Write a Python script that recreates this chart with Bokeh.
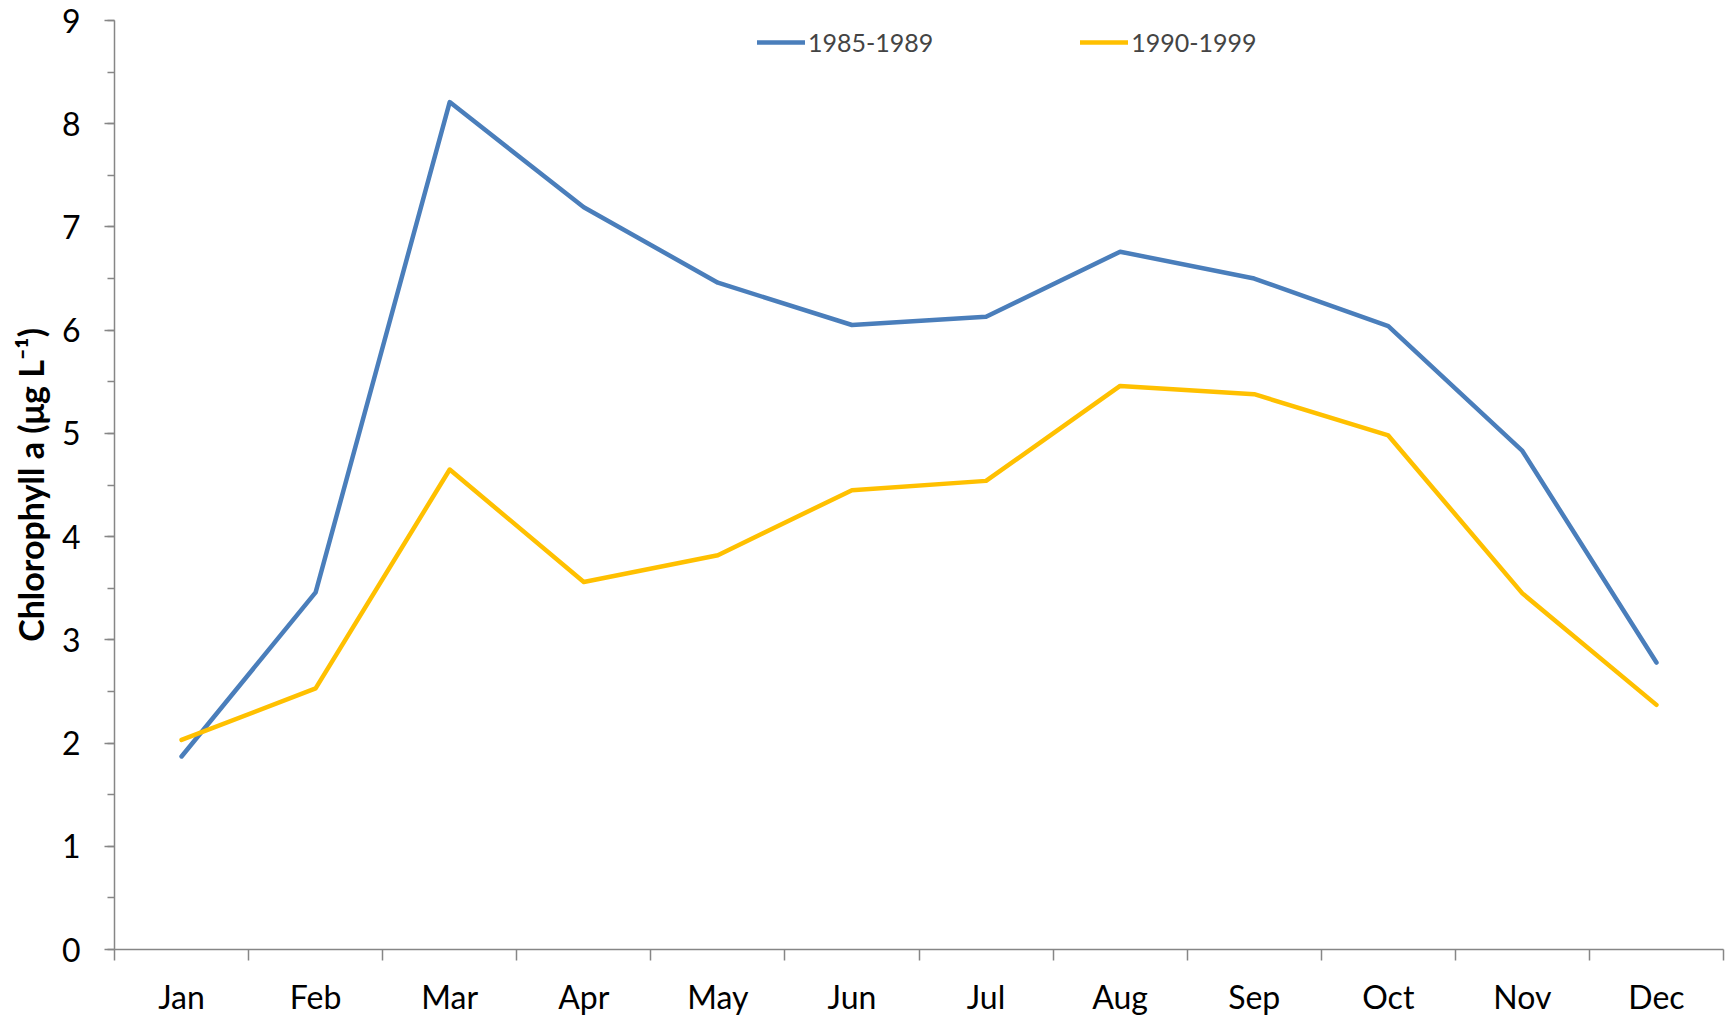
from bokeh.plotting import figure
from bokeh.models import FixedTicker, Legend, LegendItem, Range1d
from bokeh.embed import file_html
from bokeh.resources import INLINE

months = ["Jan", "Feb", "Mar", "Apr", "May", "Jun", "Jul", "Aug", "Sep", "Oct", "Nov", "Dec"]
chl_1985_1989 = [1.87, 3.46, 8.21, 7.19, 6.46, 6.05, 6.13, 6.76, 6.50, 6.04, 4.83, 2.78]
chl_1990_1999 = [2.03, 2.53, 4.65, 3.56, 3.82, 4.45, 4.54, 5.46, 5.38, 4.98, 3.45, 2.37]
y_ticks = [0, 1, 2, 3, 4, 5, 6, 7, 8, 9]
y_minor_ticks = [0, 0.5, 1, 1.5, 2, 2.5, 3, 3.5, 4, 4.5, 5, 5.5, 6, 6.5, 7, 7.5, 8, 8.5, 9]

FONT = "Lato"
AXIS_COLOR = "#868686"

x_pos = [i + 0.5 for i in range(len(months))]
boundaries = list(range(len(months) + 1))

p = figure(width=1730, height=1019, output_backend="svg", toolbar_location=None,
           x_range=Range1d(0, len(months)), y_range=Range1d(0, 9),
           min_border_left=114, min_border_right=7, min_border_top=20, min_border_bottom=70)
p.outline_line_color = None
p.xgrid.visible = False
p.ygrid.visible = False
p.background_fill_color = "white"

# x axis: labels at category centres, ticks at boundaries
xa = p.xaxis[0]
xa.ticker = FixedTicker(ticks=x_pos, minor_ticks=boundaries)
xa.major_label_overrides = {xp: m for xp, m in zip(x_pos, months)}
xa.major_tick_out = 0
xa.major_tick_in = 0
xa.minor_tick_out = 11
xa.minor_tick_in = 0
xa.minor_tick_line_color = AXIS_COLOR
xa.minor_tick_line_width = 1.5
xa.axis_line_color = AXIS_COLOR
xa.axis_line_width = 1.5
xa.major_label_text_font = FONT
xa.major_label_text_font_size = "32px"
xa.major_label_text_color = "black"
xa.major_label_standoff = 16

ya = p.yaxis[0]
ya.ticker = FixedTicker(ticks=y_ticks, minor_ticks=y_minor_ticks)
ya.major_tick_out = 10
ya.major_tick_in = 0
ya.minor_tick_out = 7
ya.minor_tick_in = 0
ya.major_tick_line_color = AXIS_COLOR
ya.minor_tick_line_color = AXIS_COLOR
ya.major_tick_line_width = 1.5
ya.minor_tick_line_width = 1.5
ya.axis_line_color = AXIS_COLOR
ya.axis_line_width = 1.5
ya.major_label_text_font = FONT
ya.major_label_text_font_size = "32px"
ya.major_label_text_color = "black"
ya.major_label_standoff = 24
ya.axis_label = "Chlorophyll a (\u03bcg L\u207b\u00b9)"
ya.axis_label_text_font = FONT
ya.axis_label_text_font_style = "bold"
ya.axis_label_text_font_size = "34px"
ya.axis_label_text_color = "black"
ya.axis_label_standoff = 8

r1 = p.line(x_pos, chl_1985_1989, line_color="#4A7EBB", line_width=4.5,
            line_join="round", line_cap="round")
r2 = p.line(x_pos, chl_1990_1999, line_color="#FFC000", line_width=4.5,
            line_join="round", line_cap="round")

legend = Legend(items=[LegendItem(label="1985-1989", renderers=[r1]),
                       LegendItem(label="1990-1999", renderers=[r2])],
                orientation="horizontal", location=(643, 892),
                padding=0, margin=0, spacing=147,
                glyph_width=48, glyph_height=30, label_standoff=3, label_height=30,
                label_text_font=FONT, label_text_font_size="25px",
                border_line_alpha=0, background_fill_alpha=0)
p.add_layout(legend)

open("out.html", "w").write(file_html(p, INLINE))
